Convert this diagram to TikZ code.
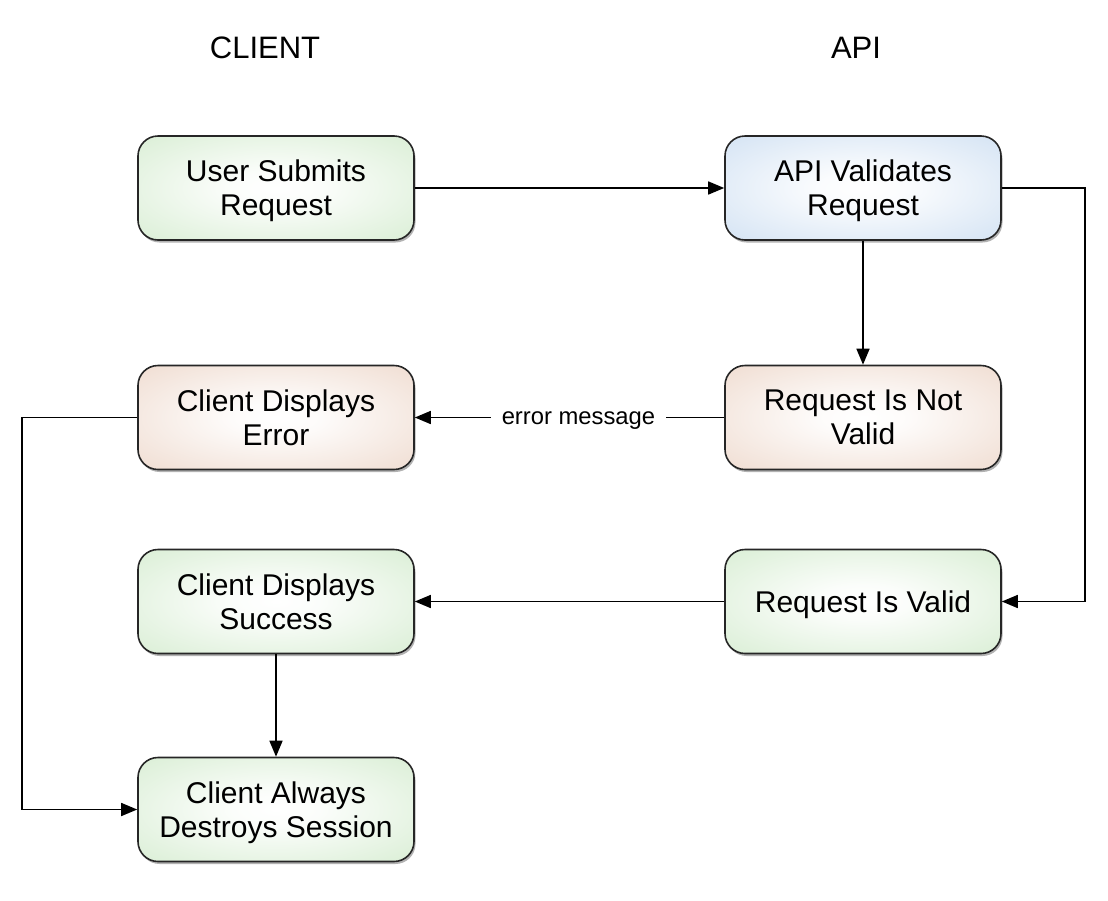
\documentclass[tikz,border=0pt]{standalone}
\usepackage{fontspec}
\setmainfont{Liberation Sans}
\usetikzlibrary{arrows.meta,shadows}
\definecolor{greenout}{RGB}{206,233,200}
\definecolor{blueout}{RGB}{198,218,240}
\definecolor{redout}{RGB}{235,210,195}
\pgfdeclareradialshading{greenshade}{\pgfpoint{0bp}{0bp}}{color(0bp)=(white); color(8bp)=(white!92!greenout); color(46bp)=(greenout); color(72bp)=(greenout)}
\pgfdeclareradialshading{blueshade}{\pgfpoint{0bp}{0bp}}{color(0bp)=(white); color(8bp)=(white!92!blueout); color(46bp)=(blueout); color(72bp)=(blueout)}
\pgfdeclareradialshading{redshade}{\pgfpoint{0bp}{0bp}}{color(0bp)=(white); color(8bp)=(white!92!redout); color(46bp)=(redout); color(72bp)=(redout)}
\begin{document}
\begin{tikzpicture}[x=1pt,y=-1pt,
  box/.style={draw=black!85, line width=1.6pt, rounded corners=20pt,
    minimum width=276pt, minimum height=104pt, inner sep=0pt, align=center,
    font=\fontsize{30}{34}\selectfont, text depth=-3pt,
    drop shadow={shadow xshift=1.5pt, shadow yshift=-2.5pt, opacity=0.3, fill=black}},
  gbox/.style={box, shading=greenshade},
  bbox/.style={box, shading=blueshade},
  rbox/.style={box, shading=redshade},
  title/.style={font=\fontsize{31}{34}\selectfont},
  arr/.style={line width=1.6pt, draw=black, -{Triangle[length=16pt,width=13pt]}},
  lbl/.style={fill=white, font=\fontsize{23.8}{26}\selectfont, inner xsep=11pt}
]
\useasboundingbox (0,0) rectangle (1108,900);
\node[title] (tclient) at (265,48) {CLIENT};
\node[title] (tapi) at (856,48) {API};

\node[gbox] (us) at (276,188) {User Submits\\Request};
\node[bbox] (av) at (863,188) {API Validates\\Request};
\node[rbox] (err) at (276,417.5) {Client Displays\\Error};
\node[rbox] (nv) at (863,417.5) {Request Is Not\\Valid};
\node[gbox] (succ) at (276,601.5) {Client Displays\\Success};
\node[gbox] (valid) at (863,601.5) {Request Is Valid};
\node[gbox] (always) at (276,809.5) {Client Always\\Destroys Session};

\coordinate (cR) at (1085,0);
\coordinate (cL) at (22,0);

\draw[arr] (us.east) -- (av.west);
\draw[arr] (av.east) -| (cR |- valid.east) -- (valid.east);
\draw[arr] (av.south) -- (nv.north);
\draw[arr] (nv.west) -- node[lbl, pos=0.471, yshift=-3pt] (lblerr) {error message} (err.east);
\draw[arr] (valid.west) -- (succ.east);
\draw[arr] (succ.south) -- (always.north);
\draw[arr] (err.west) -| (cL |- always.west) -- (always.west);
\end{tikzpicture}
\end{document}
